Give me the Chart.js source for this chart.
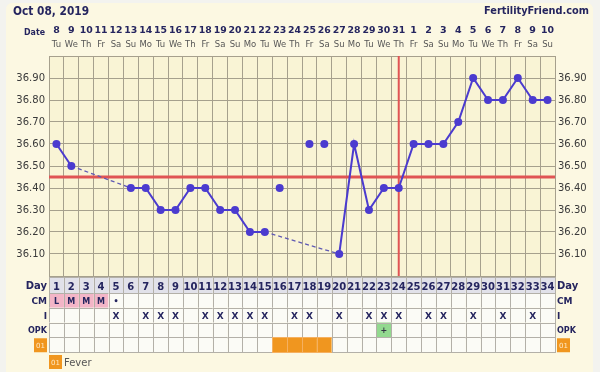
<!DOCTYPE html>
<html lang="en">
<head>
<meta charset="UTF-8">
<title>Oct 08, 2019 — BBT chart</title>
<script src="https://cdn.jsdelivr.net/npm/chart.js"></script>
<style>
  html, body { margin: 0; padding: 0; background: #f3f3ef; }
  #wrap { width: 600px; height: 372px; }
</style>
</head>
<body>
<div id="wrap"><canvas id="bbt" width="600" height="372"></canvas></div>

<script>
// ---- cycle data ----
const chartTitle = 'Oct 08, 2019';
const siteName = 'FertilityFriend.com';
const cycleDays = [1, 2, 3, 4, 5, 6, 7, 8, 9, 10, 11, 12, 13, 14, 15, 16, 17,
  18, 19, 20, 21, 22, 23, 24, 25, 26, 27, 28, 29, 30, 31, 32, 33, 34];
const dates = ['8', '9', '10', '11', '12', '13', '14', '15', '16', '17', '18', '19', '20', '21', '22', '23', '24',
  '25', '26', '27', '28', '29', '30', '31', '1', '2', '3', '4', '5', '6', '7', '8', '9', '10'];
const weekdays = ['Tu', 'We', 'Th', 'Fr', 'Sa', 'Su', 'Mo', 'Tu', 'We', 'Th', 'Fr', 'Sa', 'Su', 'Mo', 'Tu', 'We', 'Th',
  'Fr', 'Sa', 'Su', 'Mo', 'Tu', 'We', 'Th', 'Fr', 'Sa', 'Su', 'Mo', 'Tu', 'We', 'Th', 'Fr', 'Sa', 'Su'];
const temps = [36.60, 36.50, null, null, null, 36.40, 36.40, 36.30, 36.30, 36.40, 36.40, 36.30, 36.30, 36.20, 36.20,
  null, null, null, null, 36.10, 36.60, 36.30, 36.40, 36.40, 36.60, 36.60, 36.60, 36.70, 36.90, 36.80, 36.80,
  36.90, 36.80, 36.80];
const discardedDays = [16, 18, 19];
const discardedTemps = [36.40, 36.60, 36.60];
const coverline = 36.45;
const ovulationDay = 24;
const yLabels = [36.10, 36.20, 36.30, 36.40, 36.50, 36.60, 36.70, 36.80, 36.90];

const cmDays = [1, 2, 3, 4, 5];
const cmCodes = ['L', 'M', 'M', 'M', '•'];
const periodDays = [1, 2, 3, 4];
const intercourseDays = [5, 7, 8, 9, 11, 12, 13, 14, 15, 17, 18, 20, 22, 23, 24, 26, 27, 29, 31, 33];
const opkPositiveDays = [23];
const feverDays = [16, 17, 18, 19];

// ---- styling ----
const FONT = 'DejaVu Sans';
const NAVY = '#25255f';
const LINE = '#4b3bcf';
const GRID = '#a6a08d';
const ORANGE = '#f0961f';

function txt(ctx, s, x, y, font, color, align, maxW) {
  ctx.font = font;
  ctx.fillStyle = color;
  ctx.textAlign = align || 'left';
  ctx.textBaseline = 'alphabetic';
  if (maxW) ctx.fillText(s, x, y, maxW); else ctx.fillText(s, x, y);
}

function badge(ctx, x, y) {
  ctx.fillStyle = ORANGE;
  ctx.fillRect(x, y, 13, 14);
  txt(ctx, '01', x + 6.5, y + 10, '7px ' + FONT, '#fde9c8', 'center');
}

const yTicks = s => {
  s.ticks = [];
  for (let i = 0; i <= 20; i++) s.ticks.push({ value: 36 + i * 0.05 });
};
const yLabel = v => {
  const hit = yLabels.find(l => Math.abs(l - v) < 0.001);
  return hit ? hit.toFixed(2) : '';
};

const chartFrame = {
  id: 'chartFrame',
  beforeDraw(chart) {
    const { ctx, chartArea: a } = chart;
    ctx.save();
    ctx.fillStyle = '#f3f3ef';
    ctx.fillRect(0, 0, chart.width, chart.height);
    ctx.fillStyle = '#fcf8e2';
    ctx.beginPath();
    ctx.roundRect(6, 3, 587, 400, 6);
    ctx.fill();
    ctx.fillStyle = '#f9f4d5';
    ctx.fillRect(a.left, a.top, a.right - a.left, a.bottom - a.top);
    ctx.restore();
  },
  beforeDatasetsDraw(chart) {
    const { ctx, chartArea: a, scales: { x, y } } = chart;
    ctx.save();
    ctx.strokeStyle = '#e05454';
    ctx.lineWidth = 3;
    const cy = y.getPixelForValue(coverline);
    ctx.beginPath(); ctx.moveTo(a.left, cy); ctx.lineTo(a.right, cy); ctx.stroke();
    ctx.lineWidth = 2;
    const ox = x.getPixelForValue(ovulationDay);
    ctx.beginPath(); ctx.moveTo(ox, a.top); ctx.lineTo(ox, a.bottom); ctx.stroke();
    ctx.restore();
  },
  afterDraw(chart) {
    const { ctx, scales: { x } } = chart;
    ctx.save();

    // header
    txt(ctx, chartTitle, 13, 15, 'bold 13px ' + FONT, NAVY, 'left', 76);
    txt(ctx, siteName, 589, 14, 'bold 11px ' + FONT, NAVY, 'right', 105);
    txt(ctx, 'Date', 45, 35, 'bold 9.5px ' + FONT, NAVY, 'right', 21);
    cycleDays.forEach((d, i) => {
      const cx = x.getPixelForValue(d);
      txt(ctx, dates[i], cx, 33, 'bold 9.5px ' + FONT, NAVY, 'center', 13);
      txt(ctx, weekdays[i], cx, 47, '8.5px ' + FONT, '#555', 'center', 13);
    });

    // observation table under the grid
    const rows = [
      { key: 'Day', top: 277, h: 16 },
      { key: 'CM', top: 293, h: 14.75 },
      { key: 'I', top: 307.75, h: 14.75 },
      { key: 'OPK', top: 322.5, h: 14.75 },
      { key: '01', top: 337.25, h: 14.75 }
    ];
    rows.forEach(r => {
      cycleDays.forEach(d => {
        const l = x.getPixelForValue(d - 0.5), rr = x.getPixelForValue(d + 0.5);
        let fill = '#fbfbf6';
        if (r.key === 'Day') fill = '#e1e1e9';
        if (r.key === 'CM' && periodDays.includes(d)) fill = '#f3b5c7';
        if (r.key === 'OPK' && opkPositiveDays.includes(d)) fill = '#93d98f';
        if (r.key === '01' && feverDays.includes(d)) fill = ORANGE;
        ctx.fillStyle = fill;
        ctx.fillRect(l, r.top, rr - l, r.h);
        ctx.strokeStyle = (r.key === '01' && feverDays.includes(d)) ? '#f5b060' : '#b3b0a8';
        ctx.lineWidth = 1;
        ctx.strokeRect(Math.round(l) + 0.5, Math.round(r.top) + 0.5, Math.round(rr - l), Math.round(r.h));
      });
      const base = r.top + r.h / 2 + 3.5;
      if (r.key === '01') {
        badge(ctx, 34, r.top + 1);
        badge(ctx, 557, r.top + 1);
      } else {
        const f = (r.key === 'Day' ? 'bold 10px ' : 'bold 9px ') + FONT;
        txt(ctx, r.key, 47, base, f, NAVY, 'right', r.key === 'OPK' ? 19 : 22);
        txt(ctx, r.key, 557, base, f, NAVY, 'left', r.key === 'OPK' ? 19 : 22);
      }
    });
    cycleDays.forEach(d => {
      const cx = x.getPixelForValue(d);
      txt(ctx, String(d), cx, 289.5, 'bold 10px ' + FONT, NAVY, 'center', 14);
      const ci = cmDays.indexOf(d);
      if (ci >= 0) txt(ctx, cmCodes[ci], cx, 303.5, 'bold 8px ' + FONT, NAVY, 'center', 12);
      if (intercourseDays.includes(d)) txt(ctx, 'X', cx, 318.5, 'bold 9px ' + FONT, NAVY, 'center');
      if (opkPositiveDays.includes(d)) txt(ctx, '+', cx, 333, 'bold 8px ' + FONT, '#334', 'center');
    });

    // legend
    badge(ctx, 49, 355);
    txt(ctx, 'Fever', 64, 366, '10px ' + FONT, '#555', 'left');
    ctx.restore();
  }
};

const gapStyle = (ctx, on, off) => (ctx.p0.skip || ctx.p1.skip) ? on : off;

new Chart(document.getElementById('bbt'), {
  type: 'line',
  data: {
    datasets: [
      {
        label: 'Temperature',
        data: cycleDays.map((d, i) => ({ x: d, y: temps[i] })),
        borderColor: LINE,
        backgroundColor: LINE,
        borderWidth: 2,
        pointRadius: 4,
        pointBorderWidth: 0,
        spanGaps: true,
        tension: 0,
        segment: {
          borderDash: ctx => gapStyle(ctx, [4, 3], undefined),
          borderColor: ctx => gapStyle(ctx, '#5f59b3', undefined),
          borderWidth: ctx => gapStyle(ctx, 1.3, undefined)
        },
        order: 1
      },
      {
        label: 'Discarded',
        data: discardedDays.map((d, i) => ({ x: d, y: discardedTemps[i] })),
        showLine: false,
        backgroundColor: LINE,
        borderColor: LINE,
        pointRadius: 4,
        pointBorderWidth: 0,
        order: 0
      }
    ]
  },
  options: {
    responsive: false,
    animation: false,
    events: [],
    layout: { padding: { left: 0, right: 0, top: 56, bottom: 96 } },
    plugins: { legend: { display: false }, tooltip: { enabled: false } },
    scales: {
      x: {
        type: 'linear',
        min: 0.5,
        max: 34.5,
        afterBuildTicks: s => { s.ticks = [0, ...cycleDays].map(d => ({ value: d + 0.5 })); },
        afterFit: s => { s.height = 0; },
        ticks: { display: false },
        grid: { color: GRID, drawTicks: false },
        border: { color: GRID }
      },
      y: {
        position: 'left',
        min: 36,
        max: 37,
        afterBuildTicks: yTicks,
        afterFit: s => { s.width = 49; },
        ticks: { callback: yLabel, padding: 4, color: '#3a3a3a', font: { family: FONT, size: 10 } },
        grid: { color: GRID, drawTicks: false },
        border: { color: GRID }
      },
      y2: {
        position: 'right',
        min: 36,
        max: 37,
        afterBuildTicks: yTicks,
        afterFit: s => { s.width = 45; },
        ticks: { callback: yLabel, padding: 3, color: '#3a3a3a', font: { family: FONT, size: 10 } },
        grid: { display: false, drawTicks: false },
        border: { color: GRID }
      }
    }
  },
  plugins: [chartFrame]
});
</script>
</body>
</html>
